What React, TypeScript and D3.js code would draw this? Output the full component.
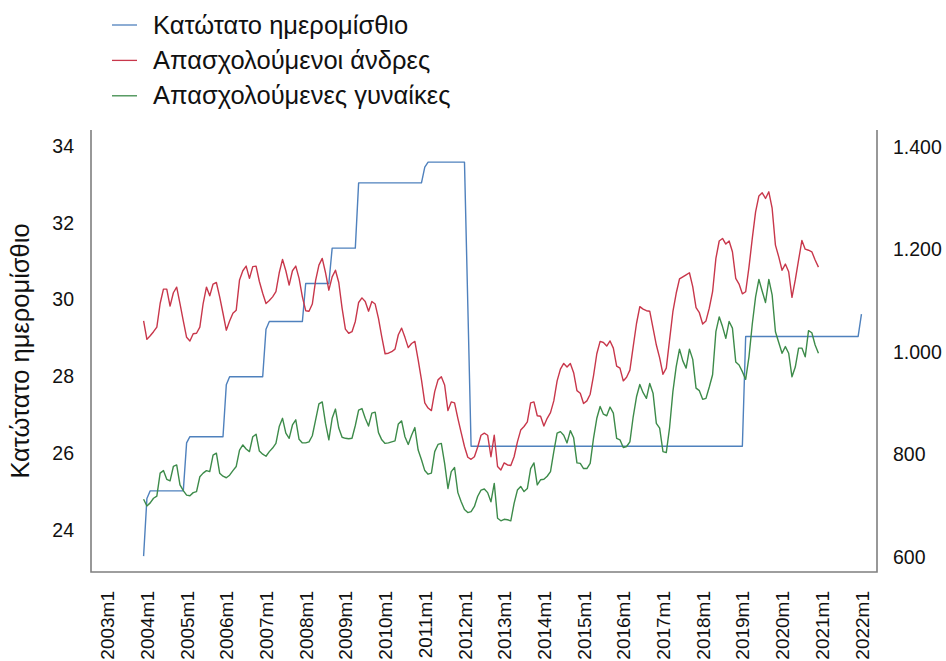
import React from 'react';
import * as d3 from 'd3';

// monthly series, first value = 2004m1
const minDailyWage = [
  23.32, 24.82, 25.02, 25.02, 25.02, 25.02, 25.02, 25.02, 25.02, 25.02, 25.02, 25.02, // 2004
  25.02, 26.27, 26.43, 26.43, 26.43, 26.43, 26.43, 26.43, 26.43, 26.43, 26.43, 26.43, // 2005
  26.43, 27.78, 27.99, 27.99, 27.99, 27.99, 27.99, 27.99, 27.99, 27.99, 27.99, 27.99, // 2006
  27.99, 29.23, 29.43, 29.43, 29.43, 29.43, 29.43, 29.43, 29.43, 29.43, 29.43, 29.43, // 2007
  29.43, 30.42, 30.42, 30.42, 30.42, 30.42, 30.42, 30.42, 30.42, 31.34, 31.34, 31.34, // 2008
  31.34, 31.34, 31.34, 31.34, 31.34, 33.04, 33.04, 33.04, 33.04, 33.04, 33.04, 33.04, // 2009
  33.04, 33.04, 33.04, 33.04, 33.04, 33.04, 33.04, 33.04, 33.04, 33.04, 33.04, 33.04, // 2010
  33.04, 33.45, 33.58, 33.58, 33.58, 33.58, 33.58, 33.58, 33.58, 33.58, 33.58, 33.58, // 2011
  33.58, 33.58, 29.88, 26.18, 26.18, 26.18, 26.18, 26.18, 26.18, 26.18, 26.18, 26.18, // 2012
  26.18, 26.18, 26.18, 26.18, 26.18, 26.18, 26.18, 26.18, 26.18, 26.18, 26.18, 26.18, // 2013
  26.18, 26.18, 26.18, 26.18, 26.18, 26.18, 26.18, 26.18, 26.18, 26.18, 26.18, 26.18, // 2014
  26.18, 26.18, 26.18, 26.18, 26.18, 26.18, 26.18, 26.18, 26.18, 26.18, 26.18, 26.18, // 2015
  26.18, 26.18, 26.18, 26.18, 26.18, 26.18, 26.18, 26.18, 26.18, 26.18, 26.18, 26.18, // 2016
  26.18, 26.18, 26.18, 26.18, 26.18, 26.18, 26.18, 26.18, 26.18, 26.18, 26.18, 26.18, // 2017
  26.18, 26.18, 26.18, 26.18, 26.18, 26.18, 26.18, 26.18, 26.18, 26.18, 26.18, 26.18, // 2018
  26.18, 26.18, 29.04, 29.04, 29.04, 29.04, 29.04, 29.04, 29.04, 29.04, 29.04, 29.04, // 2019
  29.04, 29.04, 29.04, 29.04, 29.04, 29.04, 29.04, 29.04, 29.04, 29.04, 29.04, 29.04, // 2020
  29.04, 29.04, 29.04, 29.04, 29.04, 29.04, 29.04, 29.04, 29.04, 29.04, 29.04, 29.04, // 2021
  29.04, 29.62, // 2022
];

const menEmployed = [
  1060, 1024, 1031, 1039, 1048, 1094, 1122, 1122, 1089, 1115, 1126, 1094,
  1060, 1028, 1021, 1035, 1036, 1048, 1094, 1126, 1109, 1132, 1135, 1107,
  1075, 1042, 1060, 1075, 1081, 1140, 1158, 1167, 1143, 1166, 1167, 1137,
  1114, 1094, 1100, 1107, 1117, 1154, 1180, 1158, 1130, 1158, 1167, 1143,
  1107, 1080, 1079, 1093, 1139, 1169, 1182, 1154, 1120, 1146, 1159, 1135,
  1085, 1044, 1036, 1039, 1059, 1096, 1105, 1098, 1079, 1098, 1093, 1065,
  1029, 996, 997, 1000, 1005, 1033, 1046, 1028, 1008, 1016, 1020, 984,
  945, 900, 890, 885, 922, 945, 951, 935, 885, 902, 900, 870,
  842, 815, 794, 790, 795, 814, 837, 841, 837, 795, 837, 776,
  769, 783, 779, 778, 795, 824, 847, 854, 863, 900, 902, 875,
  874, 855, 870, 881, 904, 943, 966, 977, 970, 977, 959, 924,
  919, 899, 904, 917, 953, 996, 1020, 1018, 1011, 1021, 1007, 972,
  968, 943, 950, 964, 1010, 1055, 1088, 1083, 1080, 1079, 1046, 1013,
  988, 956, 968, 1023, 1078, 1114, 1142, 1146, 1150, 1154, 1127, 1086,
  1076, 1054, 1060, 1085, 1117, 1182, 1216, 1221, 1210, 1216, 1195, 1143,
  1132, 1113, 1117, 1165, 1221, 1273, 1304, 1310, 1299, 1312, 1280, 1208,
  1185, 1159, 1171, 1156, 1106, 1140, 1179, 1217, 1200, 1198, 1195, 1179,
  1165,
];

const womenEmployed = [
  712, 699, 705, 714, 718, 763, 768, 751, 748, 776, 779, 740,
  729, 720, 719, 725, 727, 756, 763, 768, 766, 798, 802, 763,
  757, 754, 759, 768, 776, 808, 818, 810, 805, 834, 839, 806,
  800, 796, 805, 812, 821, 854, 870, 841, 831, 857, 867, 829,
  822, 822, 824, 836, 867, 898, 902, 860, 828, 870, 888, 851,
  833, 831, 830, 831, 856, 886, 889, 870, 855, 880, 882, 842,
  828, 821, 822, 824, 826, 859, 865, 834, 819, 837, 852, 808,
  789, 768, 761, 763, 805, 819, 821, 782, 733, 766, 774, 725,
  707, 692, 686, 688, 698, 718, 730, 732, 725, 707, 743, 675,
  670, 673, 672, 670, 704, 730, 737, 727, 733, 772, 783, 740,
  750, 751, 757, 766, 805, 841, 844, 837, 822, 846, 832, 783,
  782, 772, 772, 782, 831, 870, 893, 878, 875, 892, 880, 831,
  828, 813, 815, 824, 873, 912, 936, 920, 909, 938, 919, 860,
  851, 805, 803, 852, 922, 971, 1005, 982, 968, 1005, 985, 929,
  924, 907, 909, 931, 955, 1039, 1068, 1049, 1026, 1059, 1046, 980,
  974, 961, 946, 990, 1054, 1107, 1141, 1118, 1096, 1141, 1111, 1039,
  1018, 997, 1010, 997, 951, 970, 1007, 1007, 990, 1041, 1037, 1013,
  997,
];

const yearLabels = [
  '2003m1', '2004m1', '2005m1', '2006m1', '2007m1', '2008m1', '2009m1',
  '2010m1', '2011m1', '2012m1', '2013m1', '2014m1', '2015m1', '2016m1',
  '2017m1', '2018m1', '2019m1', '2020m1', '2021m1', '2022m1',
];
const leftTicks = [24, 26, 28, 30, 32, 34];
const rightTicks = [600, 800, 1000, 1200, 1400];

const seriesNames = ['Κατώτατο ημερομίσθιο', 'Απασχολούμενοι άνδρες', 'Απασχολούμενες γυναίκες'];
const seriesColors = ['#4f81bd', '#c8374b', '#3d8b4a'];

const font = 'Arial, "Liberation Sans", sans-serif';
const grLocale = d3.formatLocale({ decimal: ',', thousands: '.', grouping: [3], currency: ['', ' €'] });
const fmtRight = grLocale.format(',d');

const App = () => {
  const plot = { left: 91, right: 877, top: 130, bottom: 572 };

  // month index 0 = 2004m1
  const x = d3.scaleLinear().domain([-15.9, 221.7]).range([plot.left, plot.right]);
  const yLeft = d3.scaleLinear().domain([22.906, 34.417]).range([plot.bottom, plot.top]);
  const yRight = d3.scaleLinear().domain([570.1, 1432.6]).range([plot.bottom, plot.top]);

  const lineLeft = d3.line<number>().x((_, i) => x(i)).y(d => yLeft(d));
  const lineRight = d3.line<number>().x((_, i) => x(i)).y(d => yRight(d));

  const paths = [
    lineLeft(minDailyWage),
    lineRight(menEmployed),
    lineRight(womenEmployed),
  ];

  return (
    <svg width={946} height={661} style={{ position: 'absolute', left: 0, top: 0, background: '#fff' }}
      fontFamily={font}>
      {/* legend */}
      {seriesNames.map((name, i) => (
        <g key={name} transform={`translate(112, ${33.5 + i * 35.4})`}>
          <line x1={0} x2={25} y1={-8.5} y2={-8.5} stroke={seriesColors[i]} strokeWidth={1.3} />
          <text x={41} fontSize={25.5} fill="#111">{name}</text>
        </g>
      ))}

      {/* axis title */}
      <text transform={`translate(29, ${(plot.top + plot.bottom) / 2}) rotate(-90)`} textAnchor="middle"
        fontSize={25.5} fill="#111">Κατώτατο ημερομίσθιο</text>

      {/* frame */}
      <path d={`M${plot.left},${plot.top}V${plot.bottom}H${plot.right}V${plot.top}`} fill="none"
        stroke="#7f7f7f" strokeWidth={1.6} />

      {/* left ticks */}
      {leftTicks.map(t => (
        <text key={t} x={74} y={yLeft(t)} dy="0.35em" textAnchor="end" fontSize={19.5} fill="#111">{t}</text>
      ))}

      {/* right ticks */}
      {rightTicks.map(t => (
        <text key={t} x={893} y={yRight(t)} dy="0.35em" textAnchor="start" fontSize={19.5} fill="#111">{fmtRight(t)}</text>
      ))}

      {/* x labels */}
      {yearLabels.map((lab, i) => (
        <text key={lab} transform={`translate(${x((i - 1) * 12) + 3.7}, 591) rotate(-90)`} dy="0.35em"
          textAnchor="end" fontSize={19} fill="#111">{lab}</text>
      ))}

      {/* series */}
      {paths.map((d, i) => (
        <path key={i} d={d || ''} fill="none" stroke={seriesColors[i]} strokeWidth={1.4}
          strokeLinejoin="round" />
      ))}
    </svg>
  );
};

export default App;
